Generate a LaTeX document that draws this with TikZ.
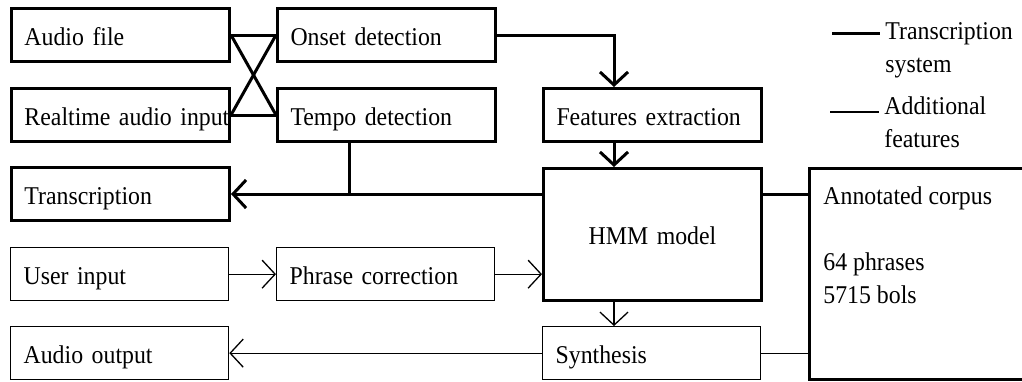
\documentclass[tikz,border=0pt]{standalone}
\usepackage{fontspec}
\setmainfont{Liberation Serif}[FakeStretch=0.93]
\usetikzlibrary{arrows.meta}

\begin{document}
\begin{tikzpicture}[x=0.5pt,y=-0.5pt]
    \newcommand{\boxw}{109pt} % width of the blocks
    \newcommand{\boxh}{26.5pt} % height of the blocks
    \newcommand{\thk}{1.5pt} % transcription system
    \newcommand{\thn}{0.65pt} % additional features

    \useasboundingbox (0,0) rectangle (1022,381);

    % set the style of the blocks and links
    \tikzset{
        every node/.style={font=\fontsize{12.8}{16.5}\selectfont},
        block/.style={
            draw, anchor=north west,
            minimum width=\boxw, minimum height=\boxh,
            text width=96pt, align=left, inner xsep=6.3pt,
            text height=11pt, text depth=1pt
            },
        strong/.style={line width=\thk},
        weak/.style={line width=\thn},
        arr/.style={-{Straight Barb[length=6.5pt,width=14pt]}}
    }

    % transcription chain
    \node[block, strong] (audio)    at (10,7)   {Audio file};
    \node[block, strong] (realtime) at (10,87)  {\mbox{Realtime audio input}};
    \node[block, strong] (onset)    at (276,7)  {Onset detection};
    \node[block, strong] (tempo)    at (276,87) {Tempo detection};
    \node[block, strong] (features) at (542,87) {Features extraction};
    \node[block, strong] (transcr)  at (10,166) {Transcription};
    \node[block, strong, align=center, minimum height=66pt] (hmm) at (542,167) {HMM model};

    % additional features
    \node[block, weak] (userin)   at (10,247)  {User input};
    \node[block, weak] (phrase)   at (276,247) {Phrase correction};
    \node[block, weak] (audioout) at (10,326)  {Audio output};
    \node[block, weak] (synth)    at (542,326) {Synthesis};

    % corpus (base = last line)
    \node[draw, strong, anchor=north west, minimum width=\boxw, minimum height=105.5pt] (corpus) at (808,167) {};
    \node[anchor=base west, align=left, inner sep=0pt] (corpustxt) at (823,303) {Annotated corpus\\[16.5pt]64 phrases\\5715 bols};

    % legend
    \node[anchor=base west, align=left, inner xsep=2.5pt, inner ysep=0pt] (legthick) at (880,72) {Transcription\\system};
    \node[anchor=base west, align=left, inner xsep=2.5pt, inner ysep=0pt] (legthin) at (879,147) {Additional\\features};
    \coordinate (thickend) at (832,33);
    \coordinate (thinend) at (830,112);
    \draw[strong] (thickend) -- (thickend -| legthick.west);
    \draw[weak] (thinend) -- (thinend -| legthin.west);

    % links
    \coordinate (col) at (614,0);
    \coordinate (tap) at (349,0);
    \foreach \src in {audio,realtime}
        \foreach \dst in {onset,tempo}
            \draw[strong] (\src.east) -- (\dst.west);
    \draw[strong, arr] (onset.east) -| (col |- features.north);
    \draw[strong, arr] (col |- features.south) -- (col |- hmm.north);
    \draw[strong] (tempo.south -| tap) -- (tap |- transcr.east);
    \draw[strong, arr] (transcr.east -| hmm.west) -- (transcr.east);
    \draw[strong] (transcr.east -| hmm.east) -- (transcr.east -| corpus.west);

    \draw[weak, arr] (userin) -- (phrase);
    \draw[weak, arr] (phrase.east) -- (phrase.east -| hmm.west);
    \draw[weak, arr] (col |- hmm.south) -- (col |- synth.north);
    \draw[weak, arr] (synth) -- (audioout);
    \draw[weak] (synth.east) -- (synth.east -| corpus.west);

\end{tikzpicture}
\end{document}
